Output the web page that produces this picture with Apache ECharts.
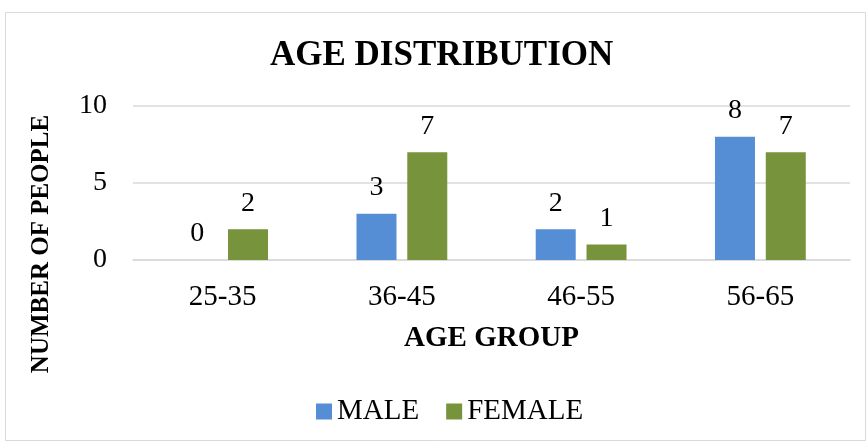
<!DOCTYPE html>
<html><head><meta charset="utf-8">
<script src="https://cdn.jsdelivr.net/npm/echarts@6/dist/echarts.min.js"></script>
<style>html,body{margin:0;padding:0;background:#fff;}#c{width:867px;height:442px;}</style>
</head><body><div id="c"></div>
<script>
const categories = ['25-35', '36-45', '46-55', '56-65'];
const maleValues = [0, 3, 2, 8];
const femaleValues = [2, 7, 1, 7];
const yTicks = [0, 5, 10];
const FONT = '"Liberation Serif", "Times New Roman", serif';
const chart = echarts.init(document.getElementById('c'), null, {renderer: 'canvas'});
const labelStyle = {show: true, position: 'top', distance: 12, color: '#000', fontFamily: FONT, fontSize: 28};
chart.setOption({
  animation: false,
  backgroundColor: '#fff',
  title: {text: 'AGE DISTRIBUTION', left: 265, top: 33, textStyle: {fontFamily: FONT, fontWeight: 'bold', fontSize: 35, color: '#000'}},
  grid: {left: 133, right: 17, top: 106, bottom: 182},
  legend: {bottom: 11, left: 311, itemWidth: 16, itemHeight: 16, itemGap: 27, icon: 'rect',
    textStyle: {fontFamily: FONT, fontSize: 29, color: '#000'}, data: ['MALE', 'FEMALE']},
  xAxis: {type: 'category', data: categories,
    axisLine: {show: true, lineStyle: {color: '#d9d9d9', width: 1.5}}, axisTick: {show: false},
    axisLabel: {color: '#000', fontFamily: FONT, fontSize: 29, margin: 23},
    name: 'AGE GROUP', nameLocation: 'middle', nameGap: 64,
    nameTextStyle: {fontFamily: FONT, fontWeight: 'bold', fontSize: 29, color: '#000'}},
  yAxis: {type: 'value', min: yTicks[0], max: yTicks[yTicks.length - 1], interval: 5,
    axisLine: {show: false}, axisTick: {show: false},
    splitLine: {lineStyle: {color: '#d9d9d9', width: 1.5}},
    axisLabel: {color: '#000', fontFamily: FONT, fontSize: 28, margin: 26}},
  graphic: [
    {type: 'rect', shape: {x: 5.5, y: 12.5, width: 860, height: 428}, style: {fill: 'none', stroke: '#d9d9d9', lineWidth: 1}, silent: true},
    {type: 'text', x: 42, y: 244, rotation: Math.PI / 2, style: {text: 'NUMBER OF PEOPLE', fontFamily: FONT, fontWeight: 'bold', fontSize: 25, fill: '#000', align: 'center', verticalAlign: 'middle'}}
  ],
  series: [
    {name: 'MALE', type: 'bar', data: maleValues, barWidth: 40, barGap: '27%', itemStyle: {color: '#558ED5'}, label: labelStyle},
    {name: 'FEMALE', type: 'bar', data: femaleValues, barWidth: 40, itemStyle: {color: '#77933C'}, label: labelStyle}
  ]
});
</script></body></html>
